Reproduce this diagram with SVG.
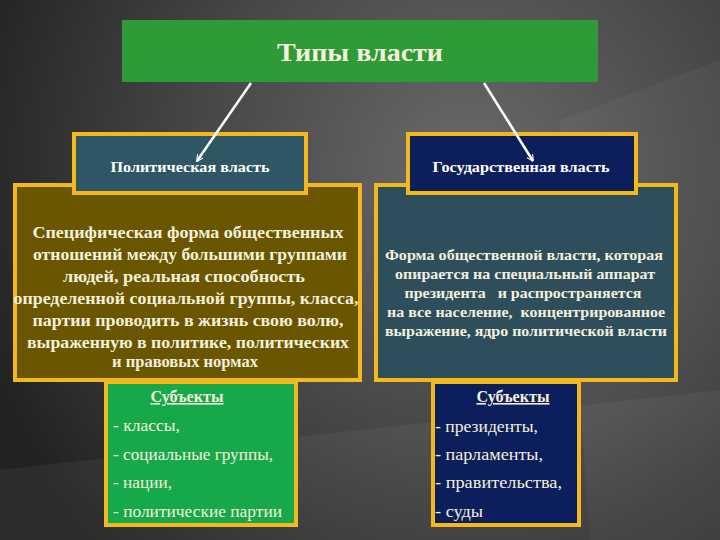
<svg xmlns="http://www.w3.org/2000/svg" width="720" height="540" viewBox="0 0 720 540">
<defs>
<radialGradient id="bg" cx="470" cy="170" r="520" gradientUnits="userSpaceOnUse">
<stop offset="0" stop-color="#6a6a6a"/>
<stop offset="0.55" stop-color="#454545"/>
<stop offset="1" stop-color="#222222"/>
</radialGradient>
<marker id="ah" viewBox="0 0 10 10" refX="9" refY="5" markerWidth="7" markerHeight="7" orient="auto" markerUnits="userSpaceOnUse">
<path d="M0,0 L10,5 L0,10" fill="none" stroke="#ffffff" stroke-width="1.5"/>
</marker>
<style>
.box{stroke:#F2B81C;stroke-width:4}
.t{font-family:"Liberation Serif","DejaVu Serif",serif;fill:#F4F0DC;text-anchor:middle}
.h{font-size:15px;font-weight:bold;fill:#ffffff}
.b{font-size:17px;font-weight:bold}
.r{font-size:15px;font-weight:bold}
.li{font-family:"Liberation Serif","DejaVu Serif",serif;fill:#F4F0DC;font-size:16px}
.con{stroke:#ffffff;stroke-width:2.5;fill:none}
</style>
</defs>
<rect width="720" height="540" fill="url(#bg)"/>
<path d="M560,120 L720,60 L720,540 L590,540 Z" fill="#ffffff" opacity="0.04"/>
<path d="M0,470 L720,390 L720,540 L0,540 Z" fill="#ffffff" opacity="0.05"/>

<g id="title">
<rect x="122" y="20" width="476" height="62" fill="#2E9A38"/>
<text class="t" x="360" y="61" font-size="26" font-weight="bold" fill="#F4F0DC" textLength="166" lengthAdjust="spacingAndGlyphs">Типы власти</text>
</g>

<g id="pol-body">
<rect class="box" x="15" y="185" width="345" height="195" fill="#6A5600"/>
<text class="t b" x="188" y="238" textLength="311" lengthAdjust="spacingAndGlyphs">Специфическая форма общественных</text>
<text class="t b" x="190" y="260" textLength="314" lengthAdjust="spacingAndGlyphs">отношений между большими группами</text>
<text class="t b" x="184" y="282" textLength="242" lengthAdjust="spacingAndGlyphs">людей, реальная способность</text>
<text class="t b" x="186" y="304" textLength="345" lengthAdjust="spacingAndGlyphs">определенной социальной группы, класса,</text>
<text class="t b" x="188" y="326" textLength="311" lengthAdjust="spacingAndGlyphs">партии проводить в жизнь свою волю,</text>
<text class="t b" x="188" y="348" textLength="322" lengthAdjust="spacingAndGlyphs">выраженную в политике, политических</text>
<text class="t b" x="185" y="367" textLength="146" lengthAdjust="spacingAndGlyphs">и правовых нормах</text>
</g>

<g id="state-body">
<rect class="box" x="376" y="185" width="300" height="195" fill="#2E4E5C"/>
<text class="t r" x="524" y="260" textLength="278" lengthAdjust="spacingAndGlyphs">Форма общественной власти, которая</text>
<text class="t r" x="525" y="279" textLength="260" lengthAdjust="spacingAndGlyphs">опирается на специальный аппарат</text>
<text class="t r" x="523" y="298" textLength="237" lengthAdjust="spacingAndGlyphs" xml:space="preserve">президента   и распространяется</text>
<text class="t r" x="526" y="317" textLength="278" lengthAdjust="spacingAndGlyphs" xml:space="preserve">на все население,  концентрированное</text>
<text class="t r" x="526" y="336" textLength="282" lengthAdjust="spacingAndGlyphs">выражение, ядро политической власти</text>
</g>

<g id="pol-head">
<rect class="box" x="74" y="134" width="232" height="59" fill="#2E5664"/>
<text class="t h" x="190" y="172" textLength="159" lengthAdjust="spacingAndGlyphs">Политическая власть</text>
</g>

<g id="state-head">
<rect class="box" x="408" y="134" width="228" height="59" fill="#0C1E5C"/>
<text class="t h" x="521" y="172" textLength="177" lengthAdjust="spacingAndGlyphs">Государственная власть</text>
</g>

<g id="pol-subj">
<rect class="box" x="106" y="382" width="190" height="143" fill="#17A84A"/>
<text class="t" x="187" y="402" font-size="16" font-weight="bold" text-decoration="underline" textLength="73" lengthAdjust="spacingAndGlyphs">Субъекты</text>
<text class="li" x="113" y="431" textLength="67" lengthAdjust="spacingAndGlyphs">- классы,</text>
<text class="li" x="113" y="460" textLength="160" lengthAdjust="spacingAndGlyphs">- социальные группы,</text>
<text class="li" x="113" y="488" textLength="59" lengthAdjust="spacingAndGlyphs">- нации,</text>
<text class="li" x="113" y="517" textLength="169" lengthAdjust="spacingAndGlyphs">- политические партии</text>
</g>

<g id="state-subj">
<rect class="box" x="433" y="382" width="146" height="143" fill="#0C1E5C"/>
<text class="t" x="513" y="402" font-size="16" font-weight="bold" text-decoration="underline" textLength="73" lengthAdjust="spacingAndGlyphs">Субъекты</text>
<text class="li" x="435" y="432" textLength="103" lengthAdjust="spacingAndGlyphs">- президенты,</text>
<text class="li" x="435" y="460" textLength="108" lengthAdjust="spacingAndGlyphs">- парламенты,</text>
<text class="li" x="435" y="488" textLength="127" lengthAdjust="spacingAndGlyphs">- правительства,</text>
<text class="li" x="435" y="517" textLength="48" lengthAdjust="spacingAndGlyphs">- суды</text>
</g>

<g id="connectors">
<line class="con" x1="251" y1="83" x2="197" y2="161" marker-end="url(#ah)"/>
<line class="con" x1="484" y1="83" x2="533" y2="161" marker-end="url(#ah)"/>
</g>
</svg>
